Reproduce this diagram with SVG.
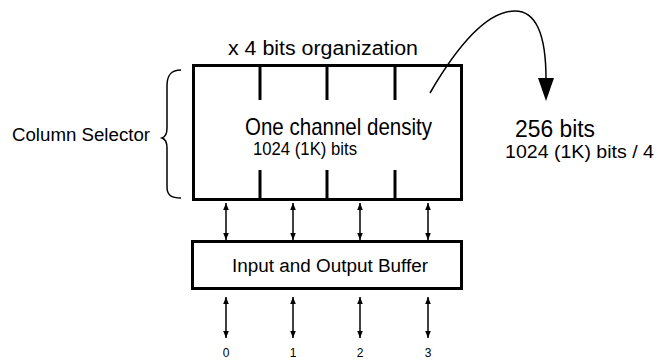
<svg xmlns="http://www.w3.org/2000/svg" width="658" height="360" viewBox="0 0 658 360">
<style>
.box{fill:#fff;stroke:#000;stroke-width:3}
.div{stroke:#000;stroke-width:3}
.thin{fill:none;stroke:#000;stroke-width:1.5}
.t{font-family:"Liberation Sans",Arial,sans-serif;fill:#000}
</style>
<defs>
<marker id="ah" viewBox="0 0 10 10" refX="10" refY="5" markerUnits="userSpaceOnUse" markerWidth="8" markerHeight="7" orient="auto-start-reverse">
<path d="M0,1 L10,5 L0,9 z" fill="#000"/>
</marker>
</defs>
<rect width="658" height="360" fill="#fff"/>
<g id="memory-array">
<rect class="box" x="193.5" y="65.5" width="268" height="134"/>
<line class="div" x1="260" y1="65" x2="260" y2="100"/>
<line class="div" x1="327" y1="65" x2="327" y2="100"/>
<line class="div" x1="395" y1="65" x2="395" y2="100"/>
<line class="div" x1="260" y1="170" x2="260" y2="200"/>
<line class="div" x1="327" y1="170" x2="327" y2="200"/>
<line class="div" x1="395" y1="170" x2="395" y2="200"/>
<text class="t" x="228" y="55" font-size="20" textLength="190" lengthAdjust="spacingAndGlyphs">x 4 bits organization</text>
<text class="t" x="245" y="135" font-size="24" textLength="187" lengthAdjust="spacingAndGlyphs">One channel density</text>
<text class="t" x="253" y="155" font-size="18" textLength="104" lengthAdjust="spacingAndGlyphs">1024 (1K) bits</text>
</g>
<g id="column-selector">
<path class="thin" d="M181,70 C171,70 167,75 167,86 L167,128 C167,134 165,137 162,138 C165,139 167,142 167,148 L167,187 C167,195 171,198 181,198"/>
<text class="t" x="12" y="141" font-size="18" textLength="138" lengthAdjust="spacingAndGlyphs">Column Selector</text>
</g>
<g id="buffer">
<rect class="box" x="192.5" y="241.5" width="269" height="47"/>
<text class="t" x="232" y="272" font-size="18" textLength="196" lengthAdjust="spacingAndGlyphs">Input and Output Buffer</text>
</g>
<g id="result">
<text class="t" x="515" y="137" font-size="23" textLength="80" lengthAdjust="spacingAndGlyphs">256 bits</text>
<text class="t" x="505" y="158" font-size="18" textLength="149" lengthAdjust="spacingAndGlyphs">1024 (1K) bits / 4</text>
</g>
<g id="io-labels" class="t" font-size="12" text-anchor="middle">
<text x="226" y="357">0</text>
<text x="293" y="357">1</text>
<text x="360" y="357">2</text>
<text x="428" y="357">3</text>
</g>
<g id="connectors">
<g class="thin" marker-start="url(#ah)" marker-end="url(#ah)">
<line x1="226" y1="203" x2="226" y2="240"/>
<line x1="293" y1="203" x2="293" y2="240"/>
<line x1="360" y1="203" x2="360" y2="240"/>
<line x1="428" y1="203" x2="428" y2="240"/>
<line x1="226" y1="297" x2="226" y2="338"/>
<line x1="293" y1="297" x2="293" y2="338"/>
<line x1="360" y1="297" x2="360" y2="338"/>
<line x1="428" y1="297" x2="428" y2="338"/>
</g>
<path class="thin" d="M430,93 C458,45 488,11 515,11 C538,11 546,40 546,79"/>
<polygon points="538,78 554,78 546,101" fill="#000"/>
</g>
</svg>
